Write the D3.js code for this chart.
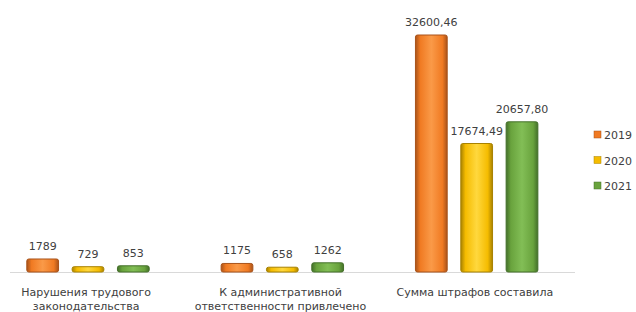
<!DOCTYPE html>
<html>
<head>
<meta charset="utf-8">
<script src="https://cdn.jsdelivr.net/npm/d3@7"></script>
<style>
  body { margin: 0; background: #fff; }
  svg { display: block; }
  text { font-family: "DejaVu Sans", sans-serif; fill: #404040; }
</style>
</head>
<body>
<div id="container"></div>
<script>
var categorias = ["Нарушения трудового законодательства", "К административной ответственности привлечено", "Сумма штрафов составила"];
var linhasRotulo = [["Нарушения трудового", "законодательства"], ["К административной", "ответственности привлечено"], ["Сумма штрафов составила"]];
var anos = ["2019", "2020", "2021"];
var valores2019 = [1789, 1175, 32600.46];
var valores2020 = [729, 658, 17674.49];
var valores2021 = [853, 1262, 20657.80];
var rotulos2019 = ["1789", "1175", "32600,46"];
var rotulos2020 = ["729", "658", "17674,49"];
var rotulos2021 = ["853", "1262", "20657,80"];

var w = 636, h = 312;
var base = 272;
var cores = { "2019": ["#FA9A48", "#F07A22", "#A9531A"], "2020": ["#FFD83E", "#F5BC00", "#A88200"], "2021": ["#82BE56", "#69A33D", "#44702A"] };

var svg = d3.select("div#container").append("svg").attr("width", w).attr("height", h);

// gradientes para efeito 3D
var defs = svg.append("defs");
anos.forEach(function (a) {
    var g = defs.append("linearGradient").attr("id", "g" + a).attr("x1", "0").attr("x2", "1").attr("y1", "0").attr("y2", "0");
    g.append("stop").attr("offset", "0%").attr("stop-color", cores[a][2]);
    g.append("stop").attr("offset", "15%").attr("stop-color", cores[a][1]);
    g.append("stop").attr("offset", "50%").attr("stop-color", cores[a][0]);
    g.append("stop").attr("offset", "85%").attr("stop-color", cores[a][1]);
    g.append("stop").attr("offset", "100%").attr("stop-color", cores[a][2]);
});

var x0 = d3.scaleBand().domain(categorias).range([-9, 574]);
var x1 = d3.scaleBand().domain(anos).range([29, 165]).paddingInner(0.3).paddingOuter(0.15);
var y = d3.scaleLinear().domain([0, 32600.46]).range([base, 35]);

var dados = [];
categorias.forEach(function (c, i) {
    dados.push({ cat: c, ano: "2019", v: valores2019[i], r: rotulos2019[i] });
    dados.push({ cat: c, ano: "2020", v: valores2020[i], r: rotulos2020[i] });
    dados.push({ cat: c, ano: "2021", v: valores2021[i], r: rotulos2021[i] });
});

// eixo
svg.append("line").attr("x1", 10).attr("x2", 575).attr("y1", base + 0.5).attr("y2", base + 0.5)
    .attr("stroke", "#d9d9d9").attr("stroke-width", 1);

svg.selectAll("rect.barra")
    .data(dados)
    .enter()
    .append("rect")
    .attr("class", "barra")
    .attr("x", function (d) { return x0(d.cat) + x1(d.ano); })
    .attr("y", function (d) { return y(d.v); })
    .attr("width", x1.bandwidth())
    .attr("height", function (d) { return base - y(d.v); })
    .attr("rx", 2)
    .attr("fill", function (d) { return "url(#g" + d.ano + ")"; })
    .attr("stroke", function (d) { return cores[d.ano][2]; })
    .attr("stroke-width", 1);

svg.selectAll("text.valor")
    .data(dados)
    .enter()
    .append("text")
    .attr("class", "valor")
    .attr("x", function (d) { return x0(d.cat) + x1(d.ano) + x1.bandwidth() / 2; })
    .attr("y", function (d) { return y(d.v) - 9; })
    .attr("text-anchor", "middle")
    .style("font-size", "11px")
    .text(function (d) { return d.r; });

// rotulos das categorias
categorias.forEach(function (c, i) {
    var t = svg.append("text")
        .attr("x", x0(c) + x0.bandwidth() / 2 - 2)
        .attr("y", 296)
        .attr("text-anchor", "middle")
        .style("font-size", "11px");
    linhasRotulo[i].forEach(function (l, k) {
        t.append("tspan").attr("x", x0(c) + x0.bandwidth() / 2 - 2).attr("dy", k == 0 ? 0 : 14).text(l);
    });
});

// legenda
var leg = svg.selectAll("g.leg").data(anos).enter().append("g").attr("class", "leg")
    .attr("transform", function (d, i) { return "translate(594," + (131 + i * 25.5) + ")"; });
leg.append("rect").attr("width", 7).attr("height", 7)
    .attr("fill", function (d) { return cores[d][1]; })
    .attr("stroke", function (d) { return cores[d][2]; }).attr("stroke-width", 0.5);
leg.append("text").attr("x", 10).attr("y", 8).style("font-size", "11px").text(function (d) { return d; });
</script>
</body>
</html>
